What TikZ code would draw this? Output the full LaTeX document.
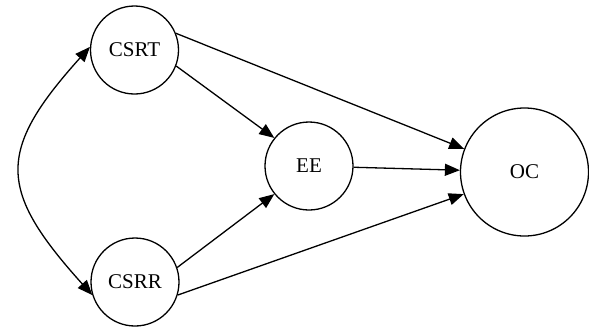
\documentclass[tikz,border=0pt]{standalone}
\usepackage{fontspec}
\setmainfont{Liberation Serif}
\usetikzlibrary{arrows.meta}

\begin{document}
\begin{tikzpicture}[x=0.5pt,y=-0.5pt,
  var/.style={draw,circle,line width=0.65pt,minimum size=44pt,inner sep=0pt,font=\fontsize{10.5}{12}\selectfont},
  path/.style={line width=0.65pt,-{Triangle[length=7.5pt,width=6pt]}}]
\useasboundingbox (0,0) rectangle (589,329);
\node[var] (csrt) at (134.5,50) {CSRT};
\node[var] (csrr) at (135,282) {CSRR};
\node[var] (ee) at (309,166) {EE};
\node[var,minimum size=64pt] (oc) at (524.5,172) {OC};
\draw[path] (csrt.-21.6) -- (ee.141.7);
\draw[path] (csrt.22.8) -- (oc.159);
\draw[path] (ee) -- (oc);
\draw[path] (csrr.19.7) -- (ee.219.2);
\draw[path] (csrr.-17) -- (oc.200.5);
\draw[line width=0.65pt,{Triangle[length=7.5pt,width=6pt]}-{Triangle[length=7.5pt,width=6pt]}]
  (csrt.176) to[out=228,in=132,looseness=1.45] (csrr.197);
\end{tikzpicture}
\end{document}
